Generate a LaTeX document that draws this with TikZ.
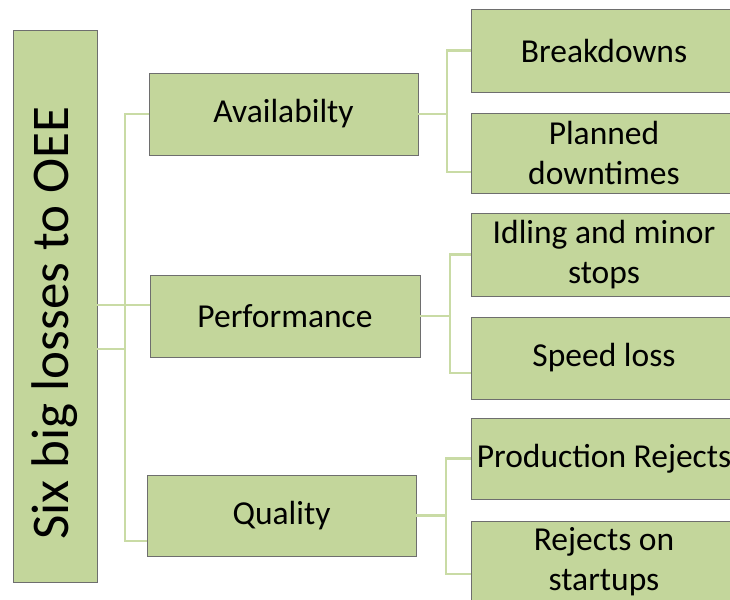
\documentclass[tikz,border=0pt]{standalone}
\usepackage{fontspec}
\setmainfont{Carlito}
\definecolor{boxfill}{HTML}{C3D69B}
\definecolor{boxline}{HTML}{6E6E6E}
\definecolor{connc}{HTML}{C9DBA5}
\begin{document}
\begin{tikzpicture}[x=1pt,y=-1pt,
  box/.style={draw=boxline, line width=0.8pt, fill=boxfill, inner sep=0pt, align=center,
    font=\fontsize{33.5}{40}\selectfont},
  conn/.style={draw=connc, line width=2.6pt}]
\clip (0,0) rectangle (730,599);
\fill[white] (0,0) rectangle (730,599);
% root
\node[box, rotate=90, minimum width=552pt, minimum height=84pt,
  font=\fontsize{53}{60}\selectfont] (root) at (55,306) {Six big losses to OEE\hspace{34pt}};
% middle level
\node[box, minimum width=269pt, minimum height=82pt] (avail) at (283.5,114) {Availabilty};
\node[box, minimum width=270pt, minimum height=82pt] (perf) at (285,316) {Performance};
\node[box, minimum width=269pt, minimum height=81pt] (qual) at (281.5,515.5) {Quality};
% leaves
\node[box, minimum width=266pt, minimum height=83pt] (bd) at (604,50.5) {Breakdowns};
\node[box, minimum width=266pt, minimum height=80pt] (pd) at (604,153) {Planned\\downtimes};
\node[box, minimum width=266pt, minimum height=83pt] (id) at (604,254.5) {Idling and minor\\stops};
\node[box, minimum width=266pt, minimum height=82pt] (sl) at (604,358) {Speed loss};
\node[box, minimum width=266pt, minimum height=81pt] (pr) at (604,458.5) {Production Rejects};
\node[box, minimum width=266pt, minimum height=81pt] (rs) at (604,561.5) {Rejects on\\startups};
% bus coordinates
\coordinate (bx) at (125,349);
\coordinate (ax) at (447,0);
\coordinate (px) at (450,0);
\coordinate (qx) at (446,0);
% root to middle
\draw[conn] ([yshift=1pt]root.south) -- ([yshift=1pt]root.south -| perf.west);
\draw[conn] (root.south |- bx) -- (bx);
\draw[conn] (avail.west) -| (bx) |- ([yshift=-25.5pt]qual.west);
% middle to leaves
\draw[conn] (avail.east) -| (ax |- bd.west) -- (bd.west);
\draw[conn] (avail.east -| ax) |- ([yshift=-19pt]pd.west);
\draw[conn] (perf.east) -| (px |- id.west) -- (id.west);
\draw[conn] (perf.east -| px) |- ([yshift=-15pt]sl.west);
\draw[conn] (qual.east) -| (qx |- pr.west) -- (pr.west);
\draw[conn] (qual.east -| qx) |- ([yshift=-12.5pt]rs.west);
\end{tikzpicture}
\end{document}
